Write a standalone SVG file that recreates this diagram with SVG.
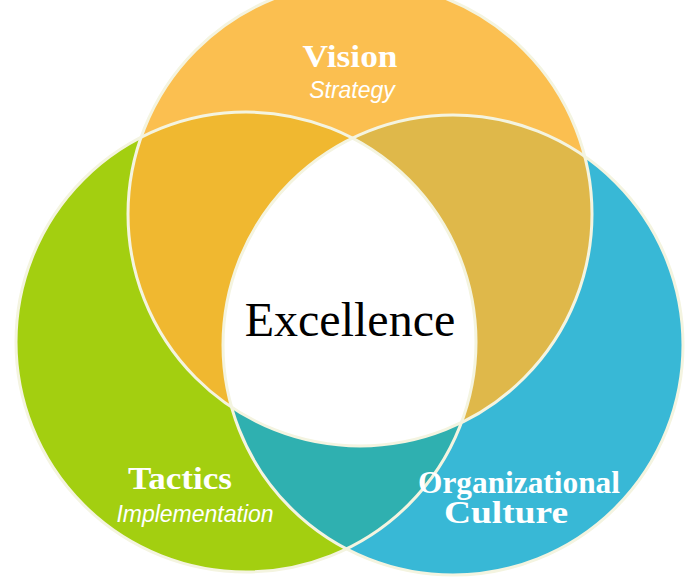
<svg xmlns="http://www.w3.org/2000/svg" width="700" height="586" viewBox="0 0 700 586">
<style>
.h{font-family:"Liberation Serif",serif;font-weight:bold;font-size:31px;fill:#fff;text-anchor:middle}
.s{font-family:"Liberation Sans",sans-serif;font-style:italic;font-size:23px;fill:#fff;text-anchor:middle}
.ring{fill:none;stroke:#f4f4e0;stroke-width:3}
</style>
<defs>
<circle id="cg" cx="246" cy="342" r="230"/>
<circle id="cb" cx="453" cy="345" r="230"/>
<circle id="co" cx="360" cy="214" r="232"/>
<clipPath id="kg"><use href="#cg"/></clipPath>
<clipPath id="kb"><use href="#cb"/></clipPath>
<clipPath id="ko"><use href="#co"/></clipPath>
</defs>
<g id="tactics"><use href="#cg" fill="#a3cf10"/></g>
<g id="culture"><use href="#cb" fill="#38b8d6"/>
<use href="#cb" fill="#2fb0b0" clip-path="url(#kg)"/></g>
<g id="vision"><use href="#co" fill="#fbbf50"/>
<use href="#cg" fill="#f0b830" clip-path="url(#ko)"/>
<use href="#cb" fill="#dfb84a" clip-path="url(#ko)"/>
<g clip-path="url(#ko)"><use href="#cb" fill="#fff" clip-path="url(#kg)"/></g></g>
<g id="rings"><use href="#cg" class="ring"/><use href="#cb" class="ring"/><use href="#co" class="ring"/></g>
<g id="labels">
<text class="h" x="350" y="67" textLength="95" lengthAdjust="spacingAndGlyphs">Vision</text>
<text class="s" x="352" y="98">Strategy</text>
<text x="350" y="336" font-family="Liberation Serif,serif" font-size="48" text-anchor="middle" fill="#000">Excellence</text>
<text class="h" x="180" y="489" textLength="104" lengthAdjust="spacingAndGlyphs">Tactics</text>
<text class="s" x="195" y="522">Implementation</text>
<text class="h" x="519" y="493" textLength="202" lengthAdjust="spacingAndGlyphs">Organizational</text>
<text class="h" x="506" y="523" textLength="124" lengthAdjust="spacingAndGlyphs">Culture</text>
</g>
</svg>
